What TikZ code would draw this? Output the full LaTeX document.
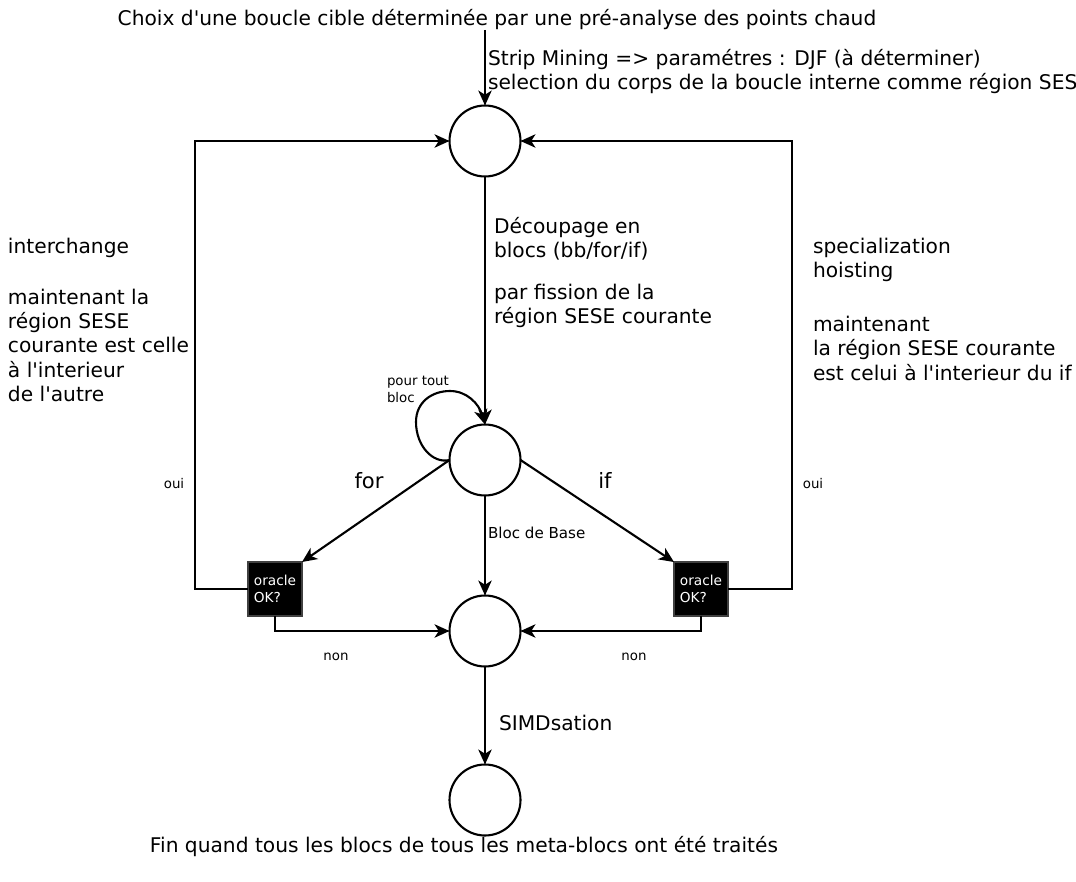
\documentclass[tikz,border=0pt]{standalone}
\usepackage{fontspec}
\setmainfont{DejaVu Sans}
\usetikzlibrary{arrows.meta}
\newcommand{\apos}{\textquotesingle}
\begin{document}
\begin{tikzpicture}[x=0.02cm,y=-0.02cm,
  every node/.style={inner sep=0pt, outer sep=0pt},
  txt/.style={font=\fontsize{11.5}{13.9}\selectfont, align=left},
  small/.style={font=\fontsize{7.6}{9.6}\selectfont, align=left},
  state/.style={circle, draw, line width=1.2pt, minimum size=1.42cm},
  oracle/.style={rectangle, draw=black!75, line width=0.6pt, fill=black, text=white,
    minimum size=1.08cm, align=left, font=\fontsize{7.8}{9.4}\selectfont},
  arr/.style={line width=1.2pt, -{Stealth[length=8.5pt, width=7.6pt, inset=2.4pt]}},
  link/.style={line width=1.2pt}]
\useasboundingbox (0,0) rectangle (1076,882);
\begin{scope}
\clip (0,0) rectangle (1076,882);

% states
\node[state] (top) at (485,141) {};
\node[state] (mid) at (485,460) {};
\node[state] (mb) at (485,631) {};
\node[state] (fin) at (485,800) {};

% oracle tests
\node[oracle] (orL) at (275,589) {oracle\\OK?};
\node[oracle] (orR) at (701,589) {oracle\\OK?};

% entry
\coordinate (src) at (485,30);
\node[txt, anchor=base] (choix) at (497,26) {Choix d\apos une boucle cible déterminée par une pré-analyse des points chaud};
\draw[arr] (src) -- (top.north);
\node[txt, anchor=north west] (strip) at (488,49) {Strip Mining => paramétres : DJF (à déterminer)\\selection du corps de la boucle interne comme région SESE};

% decomposition
\draw[arr] (top.south) -- (mid.north);
\node[txt, anchor=north west] (decoup) at (494,217) {Découpage en\\blocs (bb/for/if)};
\node[txt, anchor=north west] (fission) at (494,284) {par fission de la\\région SESE courante};

% loop over every block
\draw[arr] (mid.west) .. controls (433,464) and (416,446) .. (416,422)
  .. controls (416,402) and (432,391) .. (450,391)
  .. controls (467,391) and (479,404) .. (mid.north);
\node[small, anchor=north west] (pourtout) at (387,376) {pour tout\\bloc};

% branches
\draw[arr] (mid.west) -- (orL.north east);
\draw[arr] (mid.east) -- (orR.north west);
\draw[arr] (mid.south) -- (mb.north);
\node[txt, font=\fontsize{12}{14}\selectfont, anchor=base] (for) at (369,488) {for};
\node[txt, font=\fontsize{12}{14}\selectfont, anchor=base] (if) at (605,488) {if};
\node[small, font=\fontsize{8.6}{10}\selectfont, anchor=base west] (bloc) at (488,538) {Bloc de Base};

% feedback on success
\draw[arr] (orL.west) -- ++(-53,0) |- (top.west);
\draw[arr] (orR.east) -- ++(64,0) |- (top.east);
\node[small, anchor=base] (ouiL) at (174,488) {oui};
\node[small, anchor=base] (ouiR) at (813,488) {oui};

% failure
\draw[arr] (orL.south) |- (mb.west);
\draw[arr] (orR.south) |- (mb.east);
\node[small, anchor=base] (nonL) at (336,660) {non};
\node[small, anchor=base] (nonR) at (634,660) {non};

% side notes
\node[txt, anchor=north west] (inter) at (8,238) {interchange\\[15pt]maintenant la\\région SESE\\courante est celle\\à l\apos interieur\\de l\apos autre};
\node[txt, anchor=north west] (spec) at (813,238) {specialization\\hoisting\\[16.5pt]maintenant\\la région SESE courante\\est celui à l\apos interieur du if};

% vectorisation
\draw[arr] (mb.south) -- (fin.north);
\node[txt, anchor=base west] (simd) at (499,730) {SIMDsation};
\node[txt, anchor=base] (end) at (464,852) {Fin quand tous les blocs de tous les meta-blocs ont été traités};
\end{scope}
\end{tikzpicture}
\end{document}
